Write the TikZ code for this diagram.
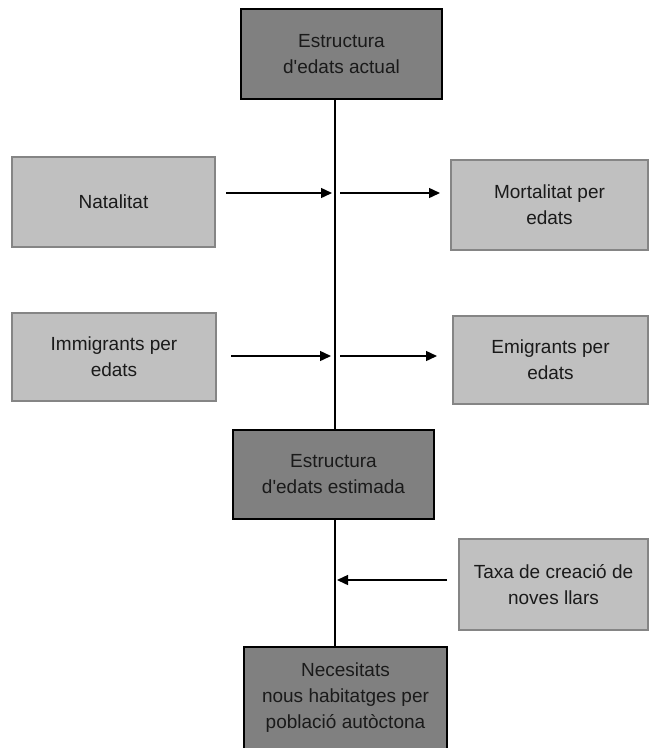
\documentclass[tikz,border=0pt]{standalone}
\usepackage{fontspec}
\setmainfont{Liberation Sans}
\usetikzlibrary{arrows.meta}
\definecolor{darkbox}{HTML}{808080}
\definecolor{lightbox}{HTML}{C0C0C0}
\definecolor{lightedge}{HTML}{858585}
\definecolor{txt}{HTML}{1A1A1A}
\begin{document}
\begin{tikzpicture}[x=1pt,y=-1pt,
  darkstyle/.style={draw=black, line width=1.4pt, fill=darkbox, inner sep=0pt, align=center, text=txt, font=\fontsize{19}{26}\selectfont},
  lightstyle/.style={draw=lightedge, line width=2pt, fill=lightbox, inner sep=0pt, align=center, text=txt, font=\fontsize{19}{26}\selectfont},
  arr/.style={line width=1.4pt, -{Triangle[length=11pt,width=10pt]}},
  conn/.style={line width=1.4pt}]
\useasboundingbox (0,0) rectangle (649,748);
\node[darkstyle, minimum width=201pt, minimum height=90pt] (top) at (341.5,54) {Estructura\\d\textquotesingle edats actual};
\node[lightstyle, minimum width=203pt, minimum height=90pt] (nat) at (113.5,202) {Natalitat};
\node[lightstyle, minimum width=197pt, minimum height=90pt] (mort) at (549.5,205) {Mortalitat per\\edats};
\node[lightstyle, minimum width=204pt, minimum height=88pt] (imm) at (114,357) {Immigrants per\\edats};
\node[lightstyle, minimum width=195pt, minimum height=88pt] (emi) at (550.5,360) {Emigrants per\\edats};
\node[darkstyle, minimum width=201pt, minimum height=89pt] (est) at (333.5,474.5) {Estructura\\d\textquotesingle edats estimada};
\node[lightstyle, minimum width=189pt, minimum height=91pt] (taxa) at (553.5,584.5) {Taxa de creació de\\noves llars};
\node[darkstyle, minimum width=203pt, minimum height=102pt] (nec) at (345.5,698) {Necesitats\\nous habitatges per\\població autòctona};
\coordinate (L) at (335,0);
\coordinate (r1) at (0,193);
\coordinate (r2) at (0,356);
\coordinate (r3) at (0,580);
\draw[conn] (L |- top.south) -- (L |- est.north);
\draw[conn] (L |- est.south) -- (L |- nec.north);
\draw[arr, shorten <=10pt, shorten >=3pt] (nat.east |- r1) -- (L |- r1);
\draw[arr, shorten <=5pt, shorten >=10pt] (L |- r1) -- (mort.west |- r1);
\draw[arr, shorten <=14pt, shorten >=4pt] (imm.east |- r2) -- (L |- r2);
\draw[arr, shorten <=5pt, shorten >=15pt] (L |- r2) -- (emi.west |- r2);
\draw[arr, shorten <=11pt, shorten >=2pt] (taxa.west |- r3) -- (L |- r3);
\end{tikzpicture}
\end{document}
